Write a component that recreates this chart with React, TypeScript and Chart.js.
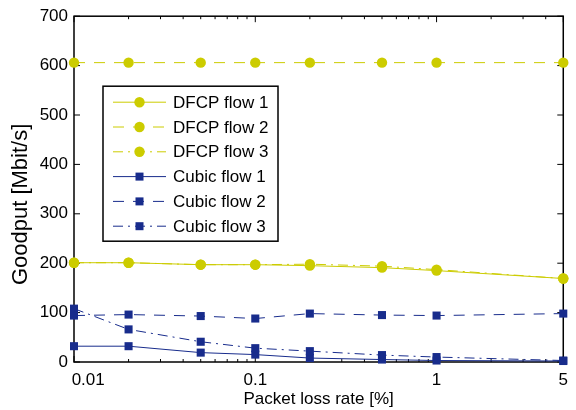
import React, { useEffect, useRef } from 'react';
import { Chart, registerables } from 'chart.js';

Chart.register(...registerables);

const lossRates = [0.01, 0.02, 0.05, 0.1, 0.2, 0.5, 1, 5];
const dfcpFlow1 = [201, 201, 197, 197, 195, 191, 185, 169];
const dfcpFlow2 = [606, 606, 606, 606, 606, 606, 606, 606];
const dfcpFlow3 = [201, 201, 197, 197, 198, 194, 187, 169];
const cubicFlow1 = [32, 32, 19, 15, 8, 5, 3, 2];
const cubicFlow2 = [94, 96, 93, 88, 98, 95, 94, 98];
const cubicFlow3 = [108, 66, 41, 28, 22, 14, 10, 3];
const seriesLabels = ['DFCP flow 1', 'DFCP flow 2', 'DFCP flow 3', 'Cubic flow 1', 'Cubic flow 2', 'Cubic flow 3'];
const xTickValues = [0.01, 0.1, 1, 5];
const xTickLabels = ['0.01', '0.1', '1', '5'];
const xMinorTicks = [0.02, 0.03, 0.04, 0.05, 0.06, 0.07, 0.08, 0.09, 0.2, 0.3, 0.4, 0.5, 0.6, 0.7, 0.8, 0.9, 2, 3, 4];
const yTickValues = [0, 100, 200, 300, 400, 500, 600, 700];
const xTitle = 'Packet loss rate [%]';
const yTitle = 'Goodput [Mbit/s]';

const YELLOW = 'rgb(204,204,0)';
const BLUE = 'rgb(24,44,140)';
const FONT = '"Liberation Sans", Arial, Helvetica, sans-serif';
const DASH = [11, 9];
const DASHDOT = [10, 5, 2, 5];

const framePlugin = {
  id: 'frame',
  beforeDatasetsDraw(chart: any) {
    const { ctx, chartArea, scales } = chart;
    const { left, right, top, bottom } = chartArea;
    const x = scales.x;
    const y = scales.y;
    ctx.save();
    ctx.strokeStyle = '#000';
    ctx.lineWidth = 1;
    ctx.setLineDash([]);
    ctx.beginPath();
    xTickValues.forEach((v) => {
      const px = x.getPixelForValue(v);
      ctx.moveTo(px, bottom); ctx.lineTo(px, bottom - 6);
      ctx.moveTo(px, top); ctx.lineTo(px, top + 6);
    });
    xMinorTicks.forEach((v) => {
      const px = x.getPixelForValue(v);
      ctx.moveTo(px, bottom); ctx.lineTo(px, bottom - 3);
      ctx.moveTo(px, top); ctx.lineTo(px, top + 3);
    });
    yTickValues.forEach((v) => {
      const py = y.getPixelForValue(v);
      ctx.moveTo(left, py); ctx.lineTo(left + 6, py);
      ctx.moveTo(right, py); ctx.lineTo(right - 6, py);
    });
    ctx.stroke();
    ctx.lineWidth = 1.5;
    ctx.strokeRect(left, top, right - left, bottom - top);
    ctx.restore();
  },
};

const legendPlugin = {
  id: 'boxLegend',
  afterDraw(chart: any) {
    const { ctx, chartArea } = chart;
    const bx = chartArea.left + 29;
    const by = chartArea.top + 70;
    const bw = 175;
    const bh = 155;
    ctx.save();
    ctx.fillStyle = '#fff';
    ctx.fillRect(bx, by, bw, bh);
    ctx.strokeStyle = '#000';
    ctx.lineWidth = 1.5;
    ctx.setLineDash([]);
    ctx.strokeRect(bx, by, bw, bh);
    chart.data.datasets.forEach((ds: any, i: number) => {
      const cy = by + 16 + i * 24.8;
      ctx.strokeStyle = ds.borderColor;
      ctx.lineWidth = 1;
      ctx.setLineDash(ds.borderDash || []);
      ctx.beginPath();
      ctx.moveTo(bx + 10, cy);
      ctx.lineTo(bx + 63, cy);
      ctx.stroke();
      ctx.setLineDash([]);
      ctx.fillStyle = ds.pointBackgroundColor;
      const mx = bx + 36.5;
      if (ds.pointStyle === 'rect') {
        ctx.fillRect(mx - 4, cy - 4, 8, 8);
      } else {
        ctx.beginPath();
        ctx.arc(mx, cy, 5.2, 0, Math.PI * 2);
        ctx.fill();
      }
      ctx.fillStyle = '#000';
      ctx.font = `17px ${FONT}`;
      ctx.textBaseline = 'middle';
      ctx.textAlign = 'left';
      ctx.fillText(ds.label, bx + 70, cy + 1);
    });
    ctx.restore();
  },
};

function makeDataset(label: string, values: number[], color: string, dash: number[], style: string, order: number) {
  return {
    label,
    data: lossRates.map((x, i) => ({ x, y: values[i] })),
    borderColor: color,
    backgroundColor: color,
    pointBackgroundColor: color,
    pointBorderColor: color,
    pointBorderWidth: 0,
    borderWidth: 1,
    borderDash: dash,
    pointStyle: style,
    pointRadius: style === 'rect' ? 5.7 : 5.2,
    pointHoverRadius: 5,
    tension: 0,
    clip: false as any,
    order,
  };
}

export default function App() {
  const ref = useRef<HTMLCanvasElement | null>(null);
  useEffect(() => {
    if (!ref.current) return;
    const datasets = [
      makeDataset(seriesLabels[0], dfcpFlow1, YELLOW, [], 'circle', 6),
      makeDataset(seriesLabels[1], dfcpFlow2, YELLOW, DASH, 'circle', 5),
      makeDataset(seriesLabels[2], dfcpFlow3, YELLOW, DASHDOT, 'circle', 4),
      makeDataset(seriesLabels[3], cubicFlow1, BLUE, [], 'rect', 3),
      makeDataset(seriesLabels[4], cubicFlow2, BLUE, DASH, 'rect', 2),
      makeDataset(seriesLabels[5], cubicFlow3, BLUE, DASHDOT, 'rect', 1),
    ];
    const chart = new Chart(ref.current, {
      type: 'line',
      data: { datasets } as any,
      options: {
        responsive: false,
        animation: false,
        events: [],
        layout: { padding: { top: 15, right: 10, left: 0, bottom: 0 } },
        plugins: { legend: { display: false }, tooltip: { enabled: false } },
        font: { family: FONT },
        scales: {
          x: {
            type: 'logarithmic',
            min: 0.01,
            max: 5,
            grid: { display: false, drawTicks: false },
            border: { display: false },
            afterBuildTicks: (scale: any) => {
              scale.ticks = xTickValues.map((v) => ({ value: v }));
            },
            afterFit: (scale: any) => {
              scale.height = 48;
            },
            ticks: {
              autoSkip: false,
              maxRotation: 0,
              minRotation: 0,
              padding: 8,
              color: '#000',
              font: { family: FONT, size: 17 },
              callback: (value: any) => {
                const idx = xTickValues.indexOf(Number(value));
                if (idx < 0) return '';
                return idx === 0 ? '      ' + xTickLabels[idx] : xTickLabels[idx];
              },
            },
            title: {
              display: true,
              text: xTitle,
              color: '#000',
              font: { family: FONT, size: 17 },
              padding: { top: 0, bottom: 0 },
            },
          },
          y: {
            type: 'linear',
            min: 0,
            max: 700,
            grid: { display: false, drawTicks: false },
            border: { display: false },
            afterBuildTicks: (scale: any) => {
              scale.ticks = yTickValues.map((v) => ({ value: v }));
            },
            afterFit: (scale: any) => {
              scale.width = 74;
            },
            ticks: {
              padding: 6,
              color: '#000',
              font: { family: FONT, size: 17 },
            },
            title: {
              display: true,
              text: yTitle + '     ',
              color: '#000',
              font: { family: FONT, size: 22 },
              padding: { top: 8, bottom: 0 },
            },
          },
        },
      } as any,
      plugins: [framePlugin, legendPlugin],
    });
    return () => chart.destroy();
  }, []);
  return (
    <div style={{ position: 'absolute', left: 0, top: 0, width: 576, height: 410, background: '#fff' }}>
      <canvas ref={ref} width={576} height={410} />
    </div>
  );
}
